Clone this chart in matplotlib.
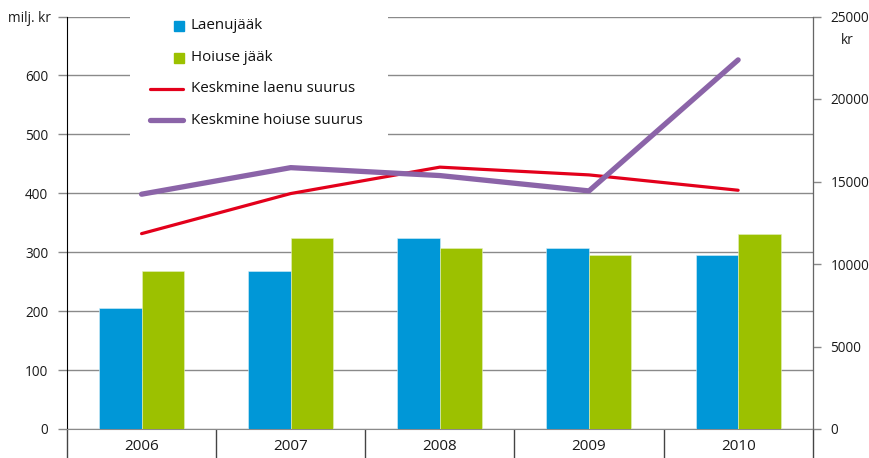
import numpy as np
import matplotlib
matplotlib.use('Agg')
import matplotlib.pyplot as plt
from matplotlib.lines import Line2D
from matplotlib.patches import Rectangle

plt.rcParams['font.family'] = ['Open Sans', 'DejaVu Sans']

years = ['2006', '2007', '2008', '2009', '2010']
laenujaak = [206, 268, 324, 308, 295]          # milj. kr
hoiuse_jaak = [268, 324, 308, 295, 331]        # milj. kr
kesk_laen = [11840, 14270, 15870, 15400, 14470]   # kr
kesk_hoius = [14230, 15840, 15360, 14430, 22370]  # kr

c_blue = '#0097d7'
c_green = '#9cc100'
c_red = '#e3001b'
c_purple = '#8b64a8'
c_grid = '#8a8a8a'
fs = 9.8

W, H = 870, 458
fig = plt.figure(figsize=(W / 100, H / 100), dpi=100)
ax = fig.add_axes([67 / W, 1 - 429 / H, (812.7 - 67) / W, (429 - 16.5) / H])
ax2 = ax.twinx()

x = np.arange(len(years))
w = 0.285
ax.bar(x - w / 2, laenujaak, w, color=c_blue, edgecolor='#d8eef8', linewidth=0.4, zorder=3)
ax.bar(x + w / 2, hoiuse_jaak, w, color=c_green, edgecolor='#e4f0c0', linewidth=0.4, zorder=3)

ax2.plot(x, kesk_laen, color=c_red, lw=2.3, solid_capstyle='round', zorder=4)
ax2.plot(x, kesk_hoius, color=c_purple, lw=3.8, solid_capstyle='round', zorder=5)

ax.set_xlim(-0.5, len(years) - 0.5)
ax.set_ylim(0, 700)
ax2.set_ylim(0, 25000)

ax.set_yticks(range(0, 701, 100))
ax.set_yticklabels([str(v) if v < 700 else '' for v in range(0, 701, 100)])
ax.yaxis.grid(True, color=c_grid, lw=1, zorder=0)
ax.set_axisbelow(True)
ax.tick_params(axis='y', length=6.5, width=1, color=c_grid, pad=7, labelsize=fs, labelcolor='#1a1a1a')

ax2.set_yticks(range(0, 25001, 5000))
ax2.tick_params(axis='y', length=5.8, width=1, color='#888', pad=7, labelsize=fs, labelcolor='#1a1a1a')

ax.set_xticks(x)
ax.set_xticklabels(years)
ax.set_xticks(np.arange(-0.5, len(years)), minor=True)
ax.tick_params(axis='x', which='major', length=0, pad=7.5, labelsize=11, labelcolor='#1a1a1a')
ax.tick_params(axis='x', which='minor', length=21, width=1, color='#444', direction='out')

for a in (ax, ax2):
    a.spines['top'].set_visible(False)
ax.spines['left'].set_color('black')
ax.spines['bottom'].set_color(c_grid)
ax2.spines['left'].set_visible(False)
ax2.spines['bottom'].set_visible(False)
ax2.spines['right'].set_color('#666')

def fx(px):
    return px / W

def fy(py):
    return 1 - py / H

fig.text(fx(8), fy(19), 'milj. kr', fontsize=fs, va='center', ha='left', color='#1a1a1a')
fig.text(fx(847), fy(40), 'kr', fontsize=fs, va='center', ha='center', color='#1a1a1a')

# legend block
fig.add_artist(Rectangle((fx(130), fy(142)), fx(388) - fx(130), fy(14) - fy(142),
                         transform=fig.transFigure, facecolor='white', edgecolor='none', zorder=2))
entries = [('Laenujääk', 'sq', c_blue, 25.5),
           ('Hoiuse jääk', 'sq', c_green, 57.5),
           ('Keskmine laenu suurus', 'ln', c_red, 88.5),
           ('Keskmine hoiuse suurus', 'ln', c_purple, 120)]
for label, kind, col, py in entries:
    if kind == 'sq':
        fig.add_artist(Line2D([fx(179.5)], [fy(py)], transform=fig.transFigure, marker='s',
                              markersize=7.5, color=col, linestyle='none', zorder=3))
    else:
        fig.add_artist(Line2D([fx(150.5), fx(183.5)], [fy(py), fy(py)], transform=fig.transFigure,
                              color=col, lw=2.3 if col == c_red else 3.8,
                              solid_capstyle='round', zorder=3))
    fig.text(fx(191), fy(py), label, fontsize=10.9, va='center', ha='left', color='#111', zorder=4)

fig.savefig('out.png', dpi=100)
